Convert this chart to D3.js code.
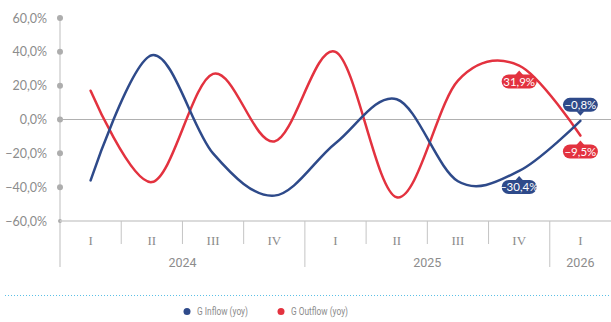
<!DOCTYPE html>
<html>
<head>
<meta charset="utf-8">
<script src="https://cdn.jsdelivr.net/npm/d3@7"></script>
<style>
  body { margin: 0; background: #fff; }
  svg { display: block; }
</style>
</head>
<body>
<div id="root"></div>
<script>
var quarters = ["I", "II", "III", "IV", "I", "II", "III", "IV", "I"];
var years = ["2024", "2025", "2026"];
var yearOf = [0, 0, 0, 0, 1, 1, 1, 1, 2];
var inflow = [-36, 38, -20, -45, -14, 12, -36.5, -30.4, -0.8];
var outflow = [17, -37, 27, -13, 40, -46, 23, 31.9, -9.5];
var yTicks = [-60, -40, -20, 0, 20, 40, 60];
var seriesNames = ["G Inflow (yoy)", "G Outflow (yoy)"];
var colors = ["#2e4a8a", "#e3323f"];

var W = 611, H = 322;
var svg = d3.select("#root").append("svg").attr("width", W).attr("height", H);

var x = d3.scaleBand().domain(d3.range(quarters.length)).range([60, 611]);
var y = d3.scaleLinear().domain([-60, 60]).range([221, 18]);
var cx = function (i) { return x(i) + x.bandwidth() / 2; };

var loc = d3.formatLocale({decimal: ",", thousands: ".", grouping: [3], currency: ["", "€"]});
var fmt = function (v) { return loc.format(".1f")(v) + "%"; };

// y axis
svg.append("line").attr("x1", 60).attr("x2", 60).attr("y1", y(60)).attr("y2", 267)
  .attr("stroke", "#bdbdbd").attr("stroke-width", 1);

var yAxis = svg.append("g").attr("transform", "translate(47,0)")
  .call(d3.axisLeft(y).tickValues(yTicks).tickSize(0).tickPadding(0).tickFormat(fmt));
yAxis.select(".domain").remove();
yAxis.selectAll("text").attr("fill", "#8c8c8c").style("font-family", "Lato, sans-serif").style("font-size", "12.5px");

svg.selectAll("circle.tick-dot").data(yTicks).enter().append("circle")
  .attr("class", "tick-dot")
  .attr("cx", 60).attr("cy", function (d) { return y(d); })
  .attr("r", function (d) { return d === -60 ? 2 : 3; })
  .attr("fill", "#adadad");

// zero line and base line
svg.append("line").attr("x1", 60).attr("x2", W).attr("y1", y(0)).attr("y2", y(0))
  .attr("stroke", "#b0b0b0").attr("stroke-width", 1);
svg.append("line").attr("x1", 60).attr("x2", W).attr("y1", y(-60)).attr("y2", y(-60))
  .attr("stroke", "#cfcfcf").attr("stroke-width", 1.6);

// x axis: quarter dividers and year dividers
var bounds = d3.range(1, quarters.length);
svg.selectAll("line.qdiv").data(bounds).enter().append("line")
  .attr("class", "qdiv")
  .attr("x1", function (i) { return x(i); }).attr("x2", function (i) { return x(i); })
  .attr("y1", y(-60)).attr("y2", function (i) { return yearOf[i] !== yearOf[i - 1] ? 267 : 244; })
  .attr("stroke", "#c4c4c4").attr("stroke-width", 1);

svg.selectAll("text.q").data(quarters).enter().append("text")
  .attr("class", "q")
  .attr("x", function (d, i) { return cx(i); })
  .attr("y", 245)
  .attr("text-anchor", "middle")
  .attr("fill", "#8c8c8c")
  .style("font-family", "'Liberation Serif', serif").style("font-size", "13px")
  .text(function (d) { return d; });

svg.selectAll("text.yr").data(years).enter().append("text")
  .attr("class", "yr")
  .attr("x", function (d, k) {
    var idx = d3.range(quarters.length).filter(function (i) { return yearOf[i] === k; });
    return (x(idx[0]) + x(idx[idx.length - 1]) + x.bandwidth()) / 2;
  })
  .attr("y", 267)
  .attr("text-anchor", "middle")
  .attr("fill", "#8c8c8c")
  .style("font-family", "Roboto, sans-serif").style("font-size", "12.5px")
  .text(function (d) { return d; });

// lines
var line = d3.line()
  .x(function (d, i) { return cx(i); })
  .y(function (d) { return y(d); })
  .curve(d3.curveCardinal.tension(0));

[outflow, inflow].forEach(function (s, k) {
  svg.append("path").datum(s)
    .attr("d", line)
    .attr("fill", "none")
    .attr("stroke", colors[1 - k])
    .attr("stroke-width", 2.5)
    .attr("stroke-linecap", "round");
});

// value labels on last two points
var labels = [
  {s: 1, i: 7, pos: "below"},
  {s: 0, i: 7, pos: "below"},
  {s: 0, i: 8, pos: "above"},
  {s: 1, i: 8, pos: "below"}
];
var seriesData = [inflow, outflow];
labels.forEach(function (l) {
  var v = seriesData[l.s][l.i];
  var px = cx(l.i), py = y(v);
  var bw = 35, bh = 14, gap = 5, tri = 4;
  var g = svg.append("g");
  var top, tipY, baseY;
  if (l.pos === "below") {
    top = py + gap + tri;
    tipY = py + gap;
    baseY = top + 0.5;
  } else {
    top = py - gap - tri - bh;
    tipY = py - gap;
    baseY = top + bh - 0.5;
  }
  g.append("rect").attr("x", px - bw / 2).attr("y", top).attr("width", bw).attr("height", bh)
    .attr("rx", 7).attr("fill", colors[l.s]);
  g.append("path")
    .attr("d", "M" + (px - tri) + "," + baseY + "L" + px + "," + tipY + "L" + (px + tri) + "," + baseY + "Z")
    .attr("fill", colors[l.s]);
  g.append("text").attr("x", px).attr("y", top + bh / 2 + 4)
    .attr("text-anchor", "middle").attr("fill", "#fff")
    .style("font-family", "Lato, sans-serif").style("font-size", "11.5px")
    .text(fmt(v));
});

// dotted separator
svg.append("line").attr("x1", 5).attr("x2", W).attr("y1", 295.5).attr("y2", 295.5)
  .attr("stroke", "#5bc0e6").attr("stroke-width", 1).attr("stroke-dasharray", "1,2");

// legend
var legX = [187, 281];
seriesNames.forEach(function (n, k) {
  svg.append("circle").attr("cx", legX[k]).attr("cy", 311.5).attr("r", 3.5).attr("fill", colors[k]);
  svg.append("text").attr("x", legX[k] + 10).attr("y", 315)
    .attr("fill", "#8c8c8c")
    .style("font-family", "Roboto, sans-serif").style("font-size", "10px")
    .attr("textLength", k === 0 ? 51 : 57).attr("lengthAdjust", "spacingAndGlyphs")
    .text(n);
});
</script>
</body>
</html>
